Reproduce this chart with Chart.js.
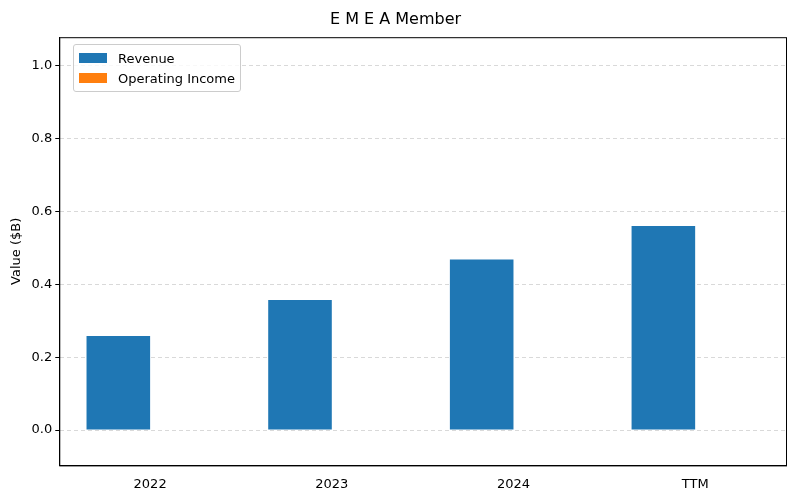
<!DOCTYPE html>
<html><head><meta charset="utf-8">
<script src="https://cdn.jsdelivr.net/npm/chart.js@4/dist/chart.umd.min.js"></script>
<style>
body{margin:0;background:#fff;font-family:"DejaVu Sans",sans-serif}
#wrap{position:relative;width:800px;height:500px}
#legend{position:absolute;left:73px;top:44px;border:1px solid #ccc;border-radius:3px;background:rgba(255,255,255,0.8);padding:3px 5px;font-size:13px;color:#000}
#legend div{display:flex;align-items:center;height:20px}
#legend span.b{display:inline-block;width:28px;height:10px;margin-right:11px}
</style></head>
<body><div id="wrap"><canvas id="c" width="800" height="500"></canvas>
<div id="legend"><div><span class="b" style="background:#1f77b4"></span>Revenue</div><div><span class="b" style="background:#ff7f0e"></span>Operating Income</div></div></div>
<script>
const categories=["2022","2023","2024","TTM"];
const revenue=[0.258,0.357,0.468,0.560];
const operatingIncome=[0,0,0,0];
const yTicks=[0,0.2,0.4,0.6,0.8,1.0];
const frame={id:'frame',afterDraw(ch){const a=ch.chartArea,c=ch.ctx;c.save();c.strokeStyle='#000';c.lineWidth=1;c.strokeRect(a.left+0.5,a.top+0.5,a.right-a.left,a.bottom-a.top);c.restore();}};
Chart.defaults.font.family="DejaVu Sans";
new Chart(document.getElementById('c'),{type:'bar',
data:{labels:categories,datasets:[
{label:'Revenue',data:revenue,backgroundColor:'#1f77b4',categoryPercentage:0.7,barPercentage:1},
{label:'Operating Income',data:operatingIncome,backgroundColor:'#ff7f0e',categoryPercentage:0.7,barPercentage:1}]},
options:{responsive:false,animation:false,devicePixelRatio:1,
layout:{padding:{left:5,right:14,top:0,bottom:5}},
plugins:{legend:{display:false},tooltip:{enabled:false},
title:{display:true,text:'E M E A Member',color:'#000',font:{size:16,weight:'normal'},padding:{top:10,bottom:8}}},
scales:{
x:{grid:{display:false},border:{color:'#000'},ticks:{color:'#000',font:{size:13}}},
y:{min:-0.097,max:1.078,afterBuildTicks(s){s.ticks=yTicks.map(v=>({value:v}));},
ticks:{color:'#000',font:{size:13},callback:v=>Number(v).toFixed(1)},
grid:{color:'#d9d9d9',drawTicks:true,tickColor:'#000',tickLength:4},border:{color:'#000',dash:[4,3]},
title:{display:true,text:'Value ($B)',color:'#000',font:{size:13}}}}},
plugins:[frame]});
</script></body></html>
